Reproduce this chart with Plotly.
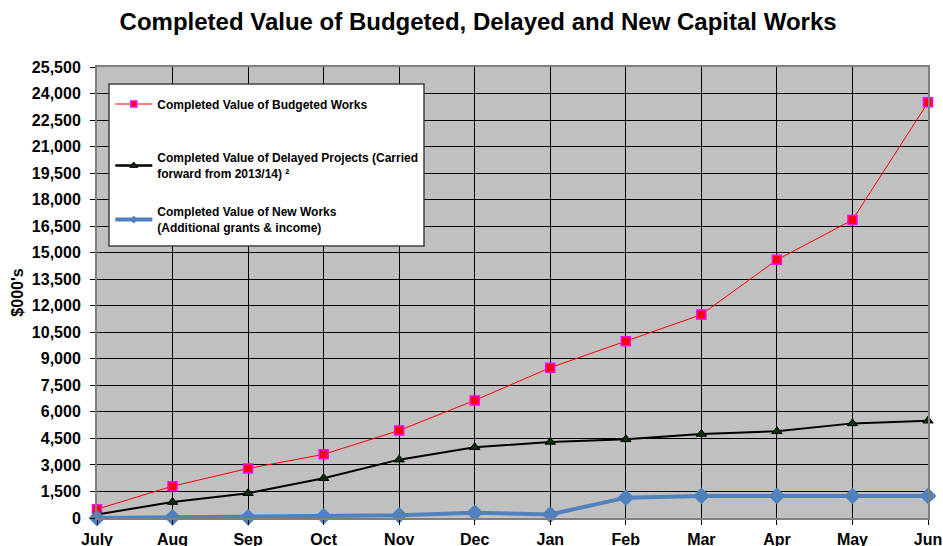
import plotly.graph_objects as go

months = ["July", "Aug", "Sep", "Oct", "Nov", "Dec", "Jan", "Feb", "Mar", "Apr", "May", "Jun"]
budgeted = [500, 1800, 2800, 3600, 4950, 6650, 8500, 10000, 11500, 14600, 16850, 23500]
delayed = [200, 900, 1400, 2250, 3300, 4000, 4300, 4450, 4750, 4900, 5350, 5500]
new_works = [0, 40, 40, 100, 150, 300, 200, 1150, 1250, 1250, 1250, 1250]
y_ticks = list(range(0, 25501, 1500))

name_b = "Completed Value of Budgeted Works"
name_d = "Completed Value of Delayed Projects (Carried<br>forward from 2013/14) ²"
name_n = "Completed Value of New Works<br>(Additional grants & income)"

styles = {
    "b": dict(line=dict(color="#FF0000", width=1),
              marker=dict(symbol="square", size=9, color="#FF0000", line=dict(color="#FF00FF", width=1.5))),
    "d": dict(line=dict(color="#000000", width=2),
              marker=dict(symbol="triangle-up", size=9, color="#003300", line=dict(color="#000000", width=1))),
    "n": dict(line=dict(color="#4F81BD", width=4),
              marker=dict(symbol="diamond", size=13, color="#4F81BD")),
}
legend_styles = {
    "b": dict(line=dict(color="#FF0000", width=1),
              marker=dict(symbol="square", size=6, color="#FF0000", line=dict(color="#FF00FF", width=1.5))),
    "d": dict(line=dict(color="#000000", width=2.5),
              marker=dict(symbol="triangle-up", size=7, color="#003300", line=dict(color="#000000", width=1))),
    "n": dict(line=dict(color="#4F81BD", width=4),
              marker=dict(symbol="diamond", size=6, color="#4F81BD")),
}
legend_ids = {"b": "legend", "d": "legend2", "n": "legend3"}

fig = go.Figure()
for key, name, vals in [("b", name_b, budgeted), ("d", name_d, delayed), ("n", name_n, new_works)]:
    fig.add_trace(go.Scatter(
        x=months, y=vals, name=name, mode="lines+markers", legendgroup=key,
        showlegend=False, cliponaxis=False, **styles[key],
    ))
for key, name in [("b", name_b), ("d", name_d), ("n", name_n)]:
    fig.add_trace(go.Scatter(
        x=[None], y=[None], name=name, mode="lines+markers", legendgroup=key,
        showlegend=True, legend=legend_ids[key], **legend_styles[key],
    ))

legend_font = dict(size=12, color="black", family="Liberation Sans, Arial, sans-serif", weight="bold")

def legend_box(ypix):
    return dict(
        x=0.016, y=(518 - ypix) / 451, xanchor="left", yanchor="middle",
        bgcolor="rgba(0,0,0,0)", borderwidth=0, font=legend_font, itemwidth=37,
    )

fig.update_layout(
    width=943, height=546,
    margin=dict(l=97, r=15, t=67, b=28),
    paper_bgcolor="white",
    plot_bgcolor="#C0C0C0",
    font=dict(family="Liberation Sans, Arial, sans-serif", color="black"),
    title=dict(
        text="<b>Completed Value of Budgeted, Delayed and New Capital Works</b>",
        x=0.507, xanchor="center", y=0.96, yanchor="middle",
        font=dict(size=24, color="black"),
    ),
    showlegend=True,
    legend=legend_box(104),
    legend2=legend_box(166),
    legend3=legend_box(220),
    shapes=[dict(
        type="rect", xref="paper", yref="paper",
        x0=(109 - 97) / 831, x1=(424 - 97) / 831,
        y0=(518 - 246) / 451, y1=(518 - 84) / 451,
        fillcolor="white", line=dict(color="#404040", width=1.5), layer="above",
    )],
)
fig.update_xaxes(
    type="category", range=[0, 11], automargin=False,
    showgrid=True, gridcolor="#000000", gridwidth=1,
    showline=True, linecolor="#808080", linewidth=2, mirror=True,
    ticks="outside", ticklen=5, tickcolor="#000000",
    ticklabelstandoff=1,
    tickfont=dict(size=16, color="black", weight="bold"),
    zeroline=False,
)
fig.update_yaxes(
    range=[0, 25500], tickvals=y_ticks, tickformat=",", automargin=False,
    showgrid=True, gridcolor="#000000", gridwidth=1,
    showline=True, linecolor="#808080", linewidth=2, mirror=True,
    ticks="outside", ticklen=5, tickcolor="#000000",
    ticklabelstandoff=6,
    tickfont=dict(size=16, color="black", weight="bold"),
    title=dict(text="<b>$000's</b>", font=dict(size=16, color="black"), standoff=4),
    zeroline=False,
)

fig.write_html(
    "out.html",
    config={"displayModeBar": False},
    post_script="document.body.style.margin='0';document.body.style.overflow='hidden';",
)
